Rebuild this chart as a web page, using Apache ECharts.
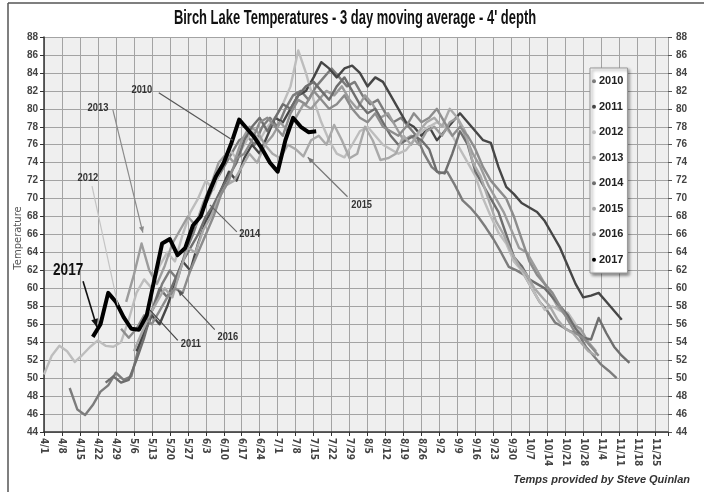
<!DOCTYPE html>
<html><head><meta charset="utf-8">
<script src="https://cdn.jsdelivr.net/npm/echarts@6/dist/echarts.min.js"></script>
<style>html,body{margin:0;padding:0;background:#fff}#c{width:704px;height:492px}</style>
</head><body><div id="c"></div>
<script>
// ---- Data (day index: 0 = April 1) ----
const dayLabels = ['4/1','4/8','4/15','4/22','4/29','5/6','5/13','5/20','5/27','6/3','6/10','6/17','6/24','7/1','7/8','7/15','7/22','7/29','8/5','8/12','8/19','8/26','9/2','9/9','9/16','9/23','9/30','10/7','10/14','10/21','10/28','11/4','11/11','11/18','11/25'];
const years = ['2010','2011','2012','2013','2014','2015','2016','2017'];
const step = 3;
const start2010 = 10;
const t2010 = [48.9,46.5,45.9,47,48.5,49.2,50.6,49.8,50.2,53.5,56.5,58,60.5,62,61,64,66,68.5,70,72,73.5,75,76.5,77,76,78,79,78,80,81.5,82,81,82.5,83.5,84.5,83.5,82.5,83,81.5,80.5,81,79.5,78.5,79,78,77,75,73.5,72.8,73,71.5,69.8,69,68,66.8,65.5,64,62.4,62,61.5,60,58.5,57.5,56.2,55.7,55.2,55,53.5,52.5,51.5,50.8,50];
const start2011 = 36;
const t2011 = [53,55,57,56,58,60.5,63,62,65,67.5,69,71,73,72,74.5,76,75,77,79,78.5,80,81.5,82,83.5,85.2,84.5,83.5,84.5,84.8,84,82.5,83.5,83,81.5,80,78.5,78,77,78,76.5,77.5,78.5,79.5,78.5,77.5,76.5,76.2,73.5,71.3,70.5,69.5,69,68.5,67.5,66,64.5,62.5,60.5,59,59.2,59.5,58.5,57.5,56.5];
const start2012 = 0;
const t2012 = [50.4,52.5,53.6,53,51.8,52.6,53.5,54.2,53.6,53.5,54,56.5,59.5,61,60,62.5,64,63,66,68.5,70,72,71,73.5,75.5,74.5,76,77.5,76.5,78,79,80.5,82.5,86.5,84,81,78.5,76.5,75,74.6,76,77.5,78,77,76,75.5,75,75.4,76.5,77.5,78,78.5,78,77,75.5,74,72.5,70,68,66.2,65,63,62,60.5,59,57.6,58,57.5,57.3,56,54.5,53.5];
const start2013 = 32;
const t2013 = [58.5,61.5,65,62,60.5,62.5,65,66.5,68,67,69.5,71.5,74,75,74,76.5,78,77.5,76,77,78.5,77.5,79,80.5,80,81,82,81.5,82.5,81,80,81.5,80.5,79,79.5,78,76.5,77,76,77.5,78,77,78.5,79,77,75,73.5,71.5,70,68.5,66.5,64.5,64,62.5,61,59.5,58,57,56,55.5,54,53];
const start2014 = 24;
const t2014 = [49.5,50.2,49.5,49.8,52,54.5,57.5,60,59,61,63,64.5,66,68,69.3,71,72.5,74,76.5,78,79,77.5,79,80.5,80,81.5,82.5,83,82,81,82.5,83.5,82,80.5,79.5,80,78.5,77,76,76.5,77,76.5,75.5,73,72.8,75,77.5,76,73,71.5,70,68.5,66,63.5,62.5,61,60.5,60,59,58,57,55.5,54.5,54.3,56.7,55,53.5,52.5,51.7];
const start2015 = 35;
const t2015 = [53,55,57,58.5,60,59,62,64.5,64,66.5,68,70,71.5,72,73.5,75,74,76,75,74.5,76,75.5,74.7,76.5,77,76,78.2,76.5,74.5,75,78,76.5,74.3,74.5,75,77,76,77.5,78.5,79,78,80,79,77.5,74,72.5,70,67.5,66,64,62.5,61.5,60,59,58,56.5,55.5,55,54,53,52.5];
const start2016 = 30;
const t2016 = [55.5,54.5,55.5,57,56,57.5,59,60,59.5,62,64,66,68,70.5,72,74.5,75,76.5,78.5,79,78,77,79.5,81,80.5,82,81,80,80.5,81.5,80,79,78.5,79.5,78,77.5,77,78,79.5,78.5,79,80,78.5,77,78,77,75.5,73.5,72,71,70,68,65.5,63,61.5,60.5,59.5,58,56.5,55,54.5,53.5,52.5];
const start2017 = 19;
const t2017 = [54.6,56,59.5,58.5,56.8,55.5,55.4,57,61,65,65.5,63.7,64.5,67,68,70.5,72.5,74,76.2,78.8,77.8,76.8,75.5,74,73,76.5,79,78,77.4,77.5];

const starts = [start2010,start2011,start2012,start2013,start2014,start2015,start2016,start2017];
const temps = [t2010,t2011,t2012,t2013,t2014,t2015,t2016,t2017];
const colors = ['#7c7c7c','#464646','#bdbdbd','#9c9c9c','#6e6e6e','#a9a9a9','#8c8c8c','#000000'];
const widths = [2.4,2.4,2.4,2.4,2.4,2.4,2.4,4];

// annotations: text, label position [day,temp], line from, line to, arrowhead
const notes = [
  {t:'2010', at:[38.1,82.1], a:[44.7,81.8], b:[73.5,76.5], c:'#555', arrow:false, big:false},
  {t:'2013', at:[21.0,80.1], a:[26.8,79.9], b:[38.5,66.2], c:'#8a8a8a', arrow:true, big:false},
  {t:'2012', at:[17.1,72.3], a:[18.7,71.4], b:[28.8,58.1], c:'#c4c4c4', arrow:false, big:false},
  {t:'2017', at:[9.4,62.0], a:[15.2,60.8], b:[20.6,55.7], c:'#111', arrow:true, big:true},
  {t:'2011', at:[57.2,53.8], a:[52.1,54.2], b:[41.2,57.6], c:'#444', arrow:false, big:false},
  {t:'2016', at:[71.6,54.6], a:[66.5,55.4], b:[52.1,59.8], c:'#555', arrow:true, big:false},
  {t:'2014', at:[80.1,66.1], a:[75.1,66.3], b:[64.6,69.3], c:'#666', arrow:false, big:false},
  {t:'2015', at:[123.7,69.3], a:[118.2,70.2], b:[102.7,74.6], c:'#777', arrow:true, big:false}
];

const NARROW = "'DejaVu Sans Condensed',sans-serif";
const LIB = "'Liberation Sans',Arial,sans-serif";

const series = years.map((y,i)=>({
  name:y, type:'line', showSymbol:false, symbol:'circle', symbolSize:4,
  data: temps[i].map((v,k)=>[starts[i]+k*step, v]),
  lineStyle:{color:colors[i], width:widths[i], join:'round'},
  itemStyle:{color:colors[i]},
  z: i===7 ? 10 : 2+i,
  animation:false
}));

const chart = echarts.init(document.getElementById('c'));
const yLab = {fontFamily:LIB, fontWeight:'bold', fontSize:10, color:'#444'};
chart.setOption({
  animation:false,
  backgroundColor:'#fff',
  grid:{left:44, right:36, top:37, bottom:60, show:true, backgroundColor:'#efefef', borderWidth:0},
  legend:{orient:'vertical', left:590, top:68, data:years, icon:'circle', itemWidth:4, itemHeight:4,
    itemGap:11, padding:[6,4,6,2], backgroundColor:'#fff', borderColor:'#999', borderWidth:1,
    shadowBlur:3, shadowColor:'rgba(0,0,0,0.45)', shadowOffsetX:2, shadowOffsetY:2,
    textStyle:{fontFamily:LIB, fontWeight:'bold', fontSize:11, color:'#222', lineHeight:14.5, padding:[0,0,0,-2]}},
  xAxis:{type:'value', min:0, max:243, interval:7,
    axisLine:{lineStyle:{color:'#333', width:1.5}},
    axisTick:{show:true, length:4, lineStyle:{color:'#333'}},
    splitLine:{show:true, lineStyle:{color:'#a3a3a3', width:1}},
    axisLabel:{rotate:-90, margin:6, fontFamily:NARROW, fontWeight:'bold', fontSize:10, color:'#444',
      formatter:v=> (v%7===0 && dayLabels[v/7]) ? dayLabels[v/7] : ''}},
  yAxis:[
    {type:'value', min:44, max:88, interval:2,
      axisLine:{show:true, lineStyle:{color:'#333', width:1.5}},
      axisTick:{show:true, length:4, lineStyle:{color:'#333'}},
      splitLine:{show:true, lineStyle:{color:'#a3a3a3', width:1}},
      axisLabel:Object.assign({margin:6}, yLab)},
    {type:'value', min:44, max:88, interval:2, position:'right',
      axisLine:{show:false}, axisTick:{show:true, length:4, lineStyle:{color:'#555'}},
      splitLine:{show:false}, axisLabel:Object.assign({margin:8}, yLab)}
  ],
  series: series
});

// Annotation overlay positioned from data coordinates
const g = [];
notes.forEach(n=>{
  const p = chart.convertToPixel({gridIndex:0}, n.at);
  const a = chart.convertToPixel({gridIndex:0}, n.a);
  const b = chart.convertToPixel({gridIndex:0}, n.b);
  g.push({type:'line', silent:true, z:50, shape:{x1:a[0],y1:a[1],x2:b[0],y2:b[1]},
    style:{stroke:n.c, lineWidth:n.big?1.6:1.2}});
  if(n.arrow){
    const ang = Math.atan2(b[1]-a[1], b[0]-a[0]);
    const L = n.big?8:6, W = n.big?3.5:2.6;
    const bx = b[0]-L*Math.cos(ang), by = b[1]-L*Math.sin(ang);
    g.push({type:'polygon', silent:true, z:51, shape:{points:[[b[0],b[1]],
      [bx+W*Math.sin(ang), by-W*Math.cos(ang)],[bx-W*Math.sin(ang), by+W*Math.cos(ang)]]},
      style:{fill:n.c}});
  }
  g.push({type:'text', silent:true, z:52, x:p[0], y:p[1], scaleX:0.85,
    style:{text:n.t, fill:n.big?'#111':'#333', align:'center', verticalAlign:'middle',
      font:(n.big?'bold 16px ':'bold 11px ')+LIB}});
});
g.push({type:'text', silent:true, z:60, x:355, y:19, scaleX:0.72, scaleY:1.08,
  style:{text:"Birch Lake Temperatures - 3 day moving average - 4' depth", fill:'#111',
    align:'center', verticalAlign:'middle', font:'bold 18px '+LIB}});
g.push({type:'text', silent:true, z:60, x:18, y:238, rotation:Math.PI/2,
  style:{text:'Temperature', fill:'#555', align:'center', verticalAlign:'middle',
    font:"10px 'DejaVu Sans',sans-serif"}});
g.push({type:'text', silent:true, right:14, top:474,
  style:{text:'Temps provided by Steve Quinlan', fill:'#333', font:"italic bold 11px "+LIB}});
g.push({type:'line', silent:true, shape:{x1:8,y1:3,x2:704,y2:3}, style:{stroke:'#555', lineWidth:1.5}});
g.push({type:'line', silent:true, shape:{x1:8,y1:3,x2:8,y2:492}, style:{stroke:'#555', lineWidth:1.5}});
chart.setOption({graphic:g});
</script></body></html>
